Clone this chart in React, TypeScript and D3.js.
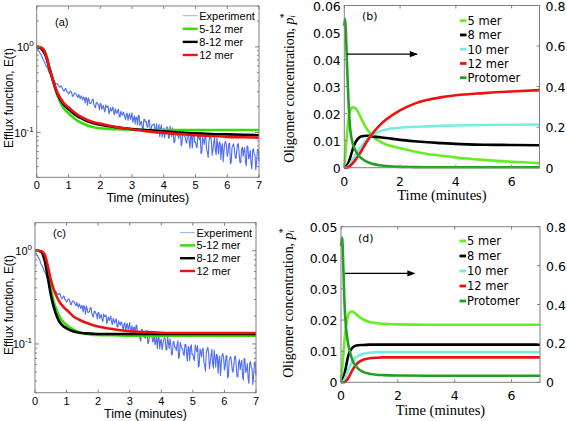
import React from "react";
import * as d3 from "d3";

// ---------------- DATA ----------------
// Experimental efflux (shared by panels a and c), sampled every EXP_DT minutes
const EXP_DT = 0.025;
const EXPERIMENT = [
  0.95, 0.94, 0.925, 0.89, 0.855, 0.825, 0.795, 0.75, 0.715, 0.69,
  0.665, 0.625, 0.595, 0.58, 0.555, 0.52, 0.495, 0.485, 0.465, 0.44,
  0.425, 0.418, 0.405, 0.385, 0.375, 0.368, 0.37, 0.356, 0.345, 0.338,
  0.345, 0.35, 0.336, 0.318, 0.306, 0.31, 0.327, 0.322, 0.3, 0.296,
  0.282, 0.288, 0.303, 0.304, 0.291, 0.267, 0.264, 0.284, 0.29, 0.284,
  0.28, 0.264, 0.257, 0.279, 0.26, 0.248, 0.269, 0.255, 0.24, 0.26,
  0.253, 0.221, 0.258, 0.248, 0.209, 0.255, 0.241, 0.2175, 0.219, 0.222,
  0.245, 0.245, 0.213, 0.2, 0.195, 0.224, 0.224, 0.213, 0.209, 0.184,
  0.219, 0.216, 0.187, 0.198, 0.207, 0.183, 0.174, 0.21, 0.197, 0.197,
  0.205, 0.165, 0.178, 0.195, 0.179, 0.186, 0.199, 0.1705, 0.162, 0.189,
  0.177, 0.167, 0.181, 0.186, 0.153, 0.152, 0.177, 0.166, 0.159, 0.173,
  0.167, 0.151, 0.142, 0.165, 0.168, 0.138, 0.158, 0.166, 0.1425, 0.1525,
  0.17, 0.1316, 0.144, 0.157, 0.126, 0.15, 0.151, 0.1222, 0.157, 0.159,
  0.121, 0.1308, 0.135, 0.1132, 0.107, 0.1428, 0.142, 0.1329, 0.134, 0.1169,
  0.1155, 0.1389, 0.14, 0.1011, 0.1026, 0.1218, 0.121, 0.1251, 0.126, 0.105,
  0.1085, 0.126, 0.098, 0.1056, 0.124, 0.0891, 0.112, 0.1226, 0.0887, 0.106,
  0.113, 0.0869, 0.099, 0.1094, 0.1167, 0.1136, 0.0865, 0.086, 0.119, 0.1033,
  0.0895, 0.1132, 0.0994, 0.076, 0.078, 0.105, 0.1062, 0.0925, 0.0919, 0.0846,
  0.0983, 0.1083, 0.0699, 0.0739, 0.1048, 0.0957, 0.09, 0.0893, 0.0779, 0.0753,
  0.0991, 0.0986, 0.0803, 0.0654, 0.0936, 0.0915, 0.0662, 0.0936, 0.0978, 0.0773,
  0.0777, 0.0693, 0.0663, 0.0978, 0.0891, 0.0825, 0.096, 0.0566, 0.0588, 0.0883,
  0.0819, 0.0725, 0.0886, 0.0899, 0.0638, 0.0587, 0.0511, 0.0804, 0.0873, 0.0924,
  0.0789, 0.0543, 0.0632, 0.0757, 0.0877, 0.0621, 0.0549, 0.0861, 0.0716, 0.0562,
  0.0776, 0.0755, 0.0486, 0.0678, 0.0741, 0.0456, 0.0623, 0.0761, 0.079, 0.0703,
  0.0525, 0.0585, 0.0739, 0.0752, 0.0433, 0.0451, 0.0662, 0.0705, 0.0733, 0.0637,
  0.0518, 0.0496, 0.0611, 0.073, 0.0741, 0.0563, 0.0446, 0.0443, 0.0637, 0.0679,
  0.0531, 0.0613, 0.0668, 0.0449, 0.0409, 0.0701, 0.0683, 0.0494, 0.0527, 0.0616,
  0.0432, 0.0377, 0.0621, 0.0645, 0.056, 0.0543, 0.0367, 0.0452, 0.0629, 0.064,
  0.0462,
];

const MODEL_T = [0, 0.1, 0.2, 0.3, 0.4, 0.5, 0.6, 0.7, 0.8, 0.9, 1.0, 1.2, 1.4, 1.6, 1.8, 2.0, 2.5, 3, 3.5, 4, 4.5, 5, 5.5, 6, 6.5, 7];
const A_5_12 = [1.0, 0.995, 0.96, 0.8, 0.57, 0.42, 0.31, 0.245, 0.205, 0.183, 0.168, 0.145, 0.13, 0.121, 0.115, 0.112, 0.109, 0.108, 0.107, 0.107, 0.107, 0.107, 0.107, 0.107, 0.107, 0.107];
const A_8_12 = [1.0, 0.98, 0.9, 0.76, 0.56, 0.42, 0.32, 0.26, 0.225, 0.203, 0.188, 0.163, 0.147, 0.135, 0.128, 0.123, 0.115, 0.11, 0.106, 0.103, 0.1, 0.098, 0.096, 0.095, 0.094, 0.093];
const A_12 = [1.0, 0.99, 0.94, 0.78, 0.57, 0.42, 0.325, 0.27, 0.235, 0.212, 0.197, 0.17, 0.152, 0.14, 0.132, 0.127, 0.116, 0.109, 0.103, 0.099, 0.096, 0.093, 0.091, 0.089, 0.088, 0.087];
const C_5_12 = [1.0, 1.0, 0.98, 0.86, 0.6, 0.39, 0.28, 0.225, 0.19, 0.172, 0.16, 0.143, 0.134, 0.129, 0.126, 0.125, 0.124, 0.123, 0.123, 0.123, 0.123, 0.123, 0.123, 0.123, 0.123, 0.123];
const C_8_12 = [1.0, 1.0, 0.97, 0.8, 0.53, 0.34, 0.245, 0.195, 0.168, 0.155, 0.147, 0.137, 0.132, 0.13, 0.129, 0.128, 0.128, 0.128, 0.128, 0.128, 0.128, 0.128, 0.128, 0.128, 0.128, 0.128];
const C_12 = [1.0, 1.0, 0.99, 0.92, 0.7, 0.49, 0.38, 0.315, 0.275, 0.25, 0.232, 0.2, 0.182, 0.17, 0.161, 0.154, 0.144, 0.137, 0.134, 0.132, 0.131, 0.131, 0.131, 0.131, 0.131, 0.131];

const B_T = [0, 0.05, 0.1, 0.15, 0.2, 0.3, 0.4, 0.5, 0.6, 0.8, 1.0, 1.25, 1.5, 2, 2.5, 3, 3.5, 4, 5, 6, 7];
const B_5 = [0, 0.006, 0.013, 0.018, 0.021, 0.0223, 0.022, 0.0205, 0.0183, 0.0145, 0.0118, 0.0098, 0.0086, 0.0072, 0.006, 0.0051, 0.0044, 0.0038, 0.0029, 0.0022, 0.0017];
const B_8 = [0, 0.0002, 0.0009, 0.0019, 0.0033, 0.0068, 0.0094, 0.0108, 0.0115, 0.0118, 0.0116, 0.0113, 0.011, 0.0103, 0.0098, 0.0094, 0.0091, 0.0088, 0.0085, 0.0084, 0.0083];
const B_10 = [0, 0, 0.0002, 0.0006, 0.0013, 0.003, 0.0047, 0.0063, 0.0078, 0.0104, 0.0121, 0.0134, 0.0141, 0.0148, 0.0151, 0.0153, 0.0155, 0.0156, 0.0158, 0.0159, 0.016];
const B_12 = [0, 0, 0, 0.0002, 0.0006, 0.0016, 0.0029, 0.0044, 0.006, 0.0095, 0.0125, 0.0155, 0.0178, 0.0212, 0.0236, 0.0251, 0.0261, 0.0268, 0.0276, 0.0282, 0.0287];
const B_PROT_T = [0, 0.03, 0.06, 0.1, 0.15, 0.2, 0.3, 0.4, 0.5, 0.6, 0.8, 1.0, 1.25, 1.5, 2, 2.5, 3, 4, 5, 6, 7];
const B_PROT = [0.7, 0.735, 0.66, 0.5, 0.33, 0.21, 0.12, 0.085, 0.062, 0.048, 0.03, 0.019, 0.012, 0.008, 0.004, 0.003, 0.0025, 0.002, 0.002, 0.002, 0.002];

const D_T = [0, 0.05, 0.1, 0.15, 0.2, 0.25, 0.3, 0.4, 0.5, 0.6, 0.8, 1.0, 1.25, 1.5, 2, 3, 4, 5, 6, 7];
const D_5 = [0, 0.005, 0.011, 0.016, 0.0195, 0.0215, 0.0224, 0.0227, 0.0222, 0.0213, 0.0201, 0.0194, 0.019, 0.0188, 0.0186, 0.0185, 0.0185, 0.0185, 0.0185, 0.0185];
const D_8 = [0, 0.0004, 0.0018, 0.0038, 0.0062, 0.0083, 0.0097, 0.0111, 0.0117, 0.0119, 0.012, 0.0121, 0.0121, 0.0121, 0.0121, 0.0121, 0.0121, 0.0121, 0.0121, 0.0121];
const D_10 = [0, 0.0001, 0.0006, 0.0015, 0.0027, 0.0039, 0.005, 0.0067, 0.0078, 0.0085, 0.0092, 0.0095, 0.0097, 0.0097, 0.0097, 0.0097, 0.0097, 0.0097, 0.0097, 0.0097];
const D_12 = [0, 0, 0, 0.0002, 0.0007, 0.0013, 0.0021, 0.0039, 0.0053, 0.0063, 0.0073, 0.0077, 0.0079, 0.008, 0.008, 0.008, 0.008, 0.008, 0.008, 0.008];
const D_PROT_T = [0, 0.04, 0.08, 0.12, 0.16, 0.2, 0.26, 0.3, 0.4, 0.5, 0.6, 0.8, 1.0, 1.25, 1.5, 2, 3, 4, 5, 6, 7];
const D_PROT = [0.7, 0.744, 0.6, 0.42, 0.31, 0.25, 0.19, 0.165, 0.115, 0.088, 0.07, 0.052, 0.044, 0.039, 0.037, 0.035, 0.034, 0.034, 0.034, 0.034, 0.034];

const X_TICKS_EFFLUX = [0, 1, 2, 3, 4, 5, 6, 7];
const X_TICKS_OLIGO = [0, 2, 4, 6];
const B_LEFT_TICKS = [0, 0.01, 0.02, 0.03, 0.04, 0.05, 0.06];
const D_LEFT_TICKS = [0, 0.01, 0.02, 0.03, 0.04, 0.05];
const RIGHT_TICKS = [0, 0.2, 0.4, 0.6, 0.8];

const EFFLUX_LEGEND = ["Experiment", "5-12 mer", "8-12 mer", "12 mer"];
const OLIGO_LEGEND = ["5 mer", "8 mer", "10 mer", "12 mer", "Protomer"];

// ---------------- STYLE ----------------
const SANS = "'Liberation Sans', Arial, Helvetica, sans-serif";
const DEJAVU = "'DejaVu Sans', sans-serif";
const SERIF = "'Liberation Serif', 'Times New Roman', serif";
const BOX = "#808080";
const EXP_COLOR = "#2f52f2";
const GREEN = "#33dd00";
const RED = "#ee1111";
const C5 = "#66ee22";
const C10 = "#77eedd";
const CPROT = "#22a022";

const zip = (t: number[], v: number[]) => t.map((tt, i) => [tt, v[i]] as [number, number]);

type Model = { name: string; color: string; t: number[]; v: number[] };

function EffluxPanel(p: {
  left: number; right: number; top: number; bottom: number;
  yDomain: [number, number]; tag: string; tagX: number; tagY: number;
  legX: number; legY: number; legDy: number; models: Model[]; labelY: number;
}) {
  const x = d3.scaleLinear().domain([0, 7]).range([p.left, p.right]);
  const y = d3.scaleLog().domain(p.yDomain).range([p.bottom, p.top]);
  const smooth = d3.line<[number, number]>().x(d => x(d[0])).y(d => y(d[1])).curve(d3.curveMonotoneX);
  const raw = d3.line<[number, number]>().x(d => x(d[0])).y(d => y(d[1]));
  const expPts = EXPERIMENT.map((v, i) => [i * EXP_DT, v] as [number, number]);
  const ticks: { v: number; major: boolean }[] = [];
  for (let e = -2; e <= 1; e++) {
    for (let m = 1; m <= 9; m++) {
      const v = m * Math.pow(10, e);
      if (v >= p.yDomain[0] - 1e-9 && v <= p.yDomain[1] + 1e-9) ticks.push({ v, major: m === 1 });
    }
  }
  const legendColors = [EXP_COLOR, ...p.models.map(m => m.color)];
  return (
    <g>
      <path d={raw(expPts) || ""} fill="none" stroke={EXP_COLOR} strokeWidth={1.1} strokeOpacity={0.85} strokeLinejoin="round" />
      {p.models.map(m => (
        <path key={m.name} d={smooth(zip(m.t, m.v)) || ""} fill="none" stroke={m.color} strokeWidth={2.6} />
      ))}
      <rect x={p.left} y={p.top} width={p.right - p.left} height={p.bottom - p.top} fill="none" stroke={BOX} strokeWidth={1} />
      {X_TICKS_EFFLUX.map(t => (
        <g key={t}>
          <line x1={x(t)} x2={x(t)} y1={p.bottom} y2={p.bottom - 3} stroke={BOX} />
          <line x1={x(t)} x2={x(t)} y1={p.top} y2={p.top + 3} stroke={BOX} />
          <text x={x(t)} y={p.bottom + 12} fontSize={11} fontFamily={SANS} textAnchor="middle" fill="#000">{t}</text>
        </g>
      ))}
      {ticks.map(tk => (
        <g key={tk.v}>
          <line x1={p.left} x2={p.left + (tk.major ? 4 : 2)} y1={y(tk.v)} y2={y(tk.v)} stroke={BOX} />
          <line x1={p.right} x2={p.right - (tk.major ? 4 : 2)} y1={y(tk.v)} y2={y(tk.v)} stroke={BOX} />
          {tk.major && (
            <text x={p.left - 3} y={y(tk.v) + 4} fontSize={11} fontFamily={SANS} textAnchor="end" fill="#000">
              10<tspan fontSize={8} dy={-5}>{Math.round(Math.log10(tk.v))}</tspan>
            </text>
          )}
        </g>
      ))}
      <text x={(p.left + p.right) / 2} y={p.bottom + 25} fontSize={12.5} fontFamily={SANS} textAnchor="middle">Time (minutes)</text>
      <text transform={`translate(9,${p.labelY}) rotate(-90)`} fontSize={12.5} fontFamily={SANS} textAnchor="middle" dominantBaseline="central" textLength={100} lengthAdjust="spacingAndGlyphs">Efflux function, E(t)</text>
      <text x={p.tagX} y={p.tagY} fontSize={11} fontFamily={SANS}>{p.tag}</text>
      {EFFLUX_LEGEND.map((name, i) => (
        <g key={name}>
          <line x1={p.legX} x2={p.legX + 15} y1={p.legY + i * p.legDy} y2={p.legY + i * p.legDy}
            stroke={i === 0 ? "#9aaaff" : legendColors[i]} strokeWidth={i === 0 ? 1 : 2.4} />
          <text x={p.legX + 16.5} y={p.legY + i * p.legDy + 4} fontSize={11} fontFamily={SANS}>{name}</text>
        </g>
      ))}
    </g>
  );
}

function OligoPanel(p: {
  left: number; right: number; top: number; bottom: number; yMax: number; leftTicks: number[];
  tag: string; tagX: number; tagY: number; legX: number; legY: number; legDy: number;
  series: Model[]; prot: Model; arrow: { t0: number; t1: number; v: number }; labelX: number; labelY: number;
}) {
  const x = d3.scaleLinear().domain([0, 7]).range([p.left, p.right]);
  const yL = d3.scaleLinear().domain([0, p.yMax]).range([p.bottom, p.top]);
  const yR = d3.scaleLinear().domain([0, 0.8]).range([p.bottom, p.top]);
  const lineL = d3.line<[number, number]>().x(d => x(d[0])).y(d => yL(d[1])).curve(d3.curveMonotoneX);
  const lineR = d3.line<[number, number]>().x(d => x(d[0])).y(d => yR(d[1])).curve(d3.curveMonotoneX);
  const all = [...p.series, p.prot];
  const ay = yR(p.arrow.v);
  const fmtL = (v: number) => (v === 0 ? "0" : d3.format(".2f")(v));
  const fmtR = (v: number) => (v === 0 ? "0" : d3.format(".1f")(v));
  return (
    <g>
      {p.series.map(s => (
        <path key={s.name} d={lineL(zip(s.t, s.v)) || ""} fill="none" stroke={s.color} strokeWidth={2.6} />
      ))}
      <path d={lineR(zip(p.prot.t, p.prot.v)) || ""} fill="none" stroke={p.prot.color} strokeWidth={2.6} />
      <rect x={p.left} y={p.top} width={p.right - p.left} height={p.bottom - p.top} fill="none" stroke={BOX} strokeWidth={1} />
      {X_TICKS_OLIGO.map(t => (
        <g key={t}>
          <line x1={x(t)} x2={x(t)} y1={p.bottom} y2={p.bottom - 3} stroke={BOX} />
          <line x1={x(t)} x2={x(t)} y1={p.top} y2={p.top + 3} stroke={BOX} />
          <text x={x(t)} y={p.bottom + 18} fontSize={12.5} fontFamily={DEJAVU} textAnchor="middle">{t}</text>
        </g>
      ))}
      {p.leftTicks.map(v => (
        <g key={v}>
          <line x1={p.left} x2={p.left + 3} y1={yL(v)} y2={yL(v)} stroke={BOX} />
          <text x={p.left - 3.5} y={yL(v) + 5} fontSize={12.5} fontFamily={DEJAVU} textAnchor="end">{fmtL(v)}</text>
        </g>
      ))}
      {RIGHT_TICKS.map(v => (
        <g key={v}>
          <line x1={p.right} x2={p.right - 3} y1={yR(v)} y2={yR(v)} stroke={BOX} />
          <text x={p.right + 6} y={yR(v) + 5} fontSize={12.5} fontFamily={DEJAVU} textAnchor="start">{fmtR(v)}</text>
        </g>
      ))}
      <text x={(p.left + p.right) / 2} y={p.bottom + 32.5} fontSize={14.5} fontFamily={SERIF} textAnchor="middle">Time (minutes)</text>
      <text transform={`translate(${p.labelX},${p.labelY}) rotate(-90)`} fontSize={13.8} fontFamily={SERIF} textAnchor="middle" dominantBaseline="central">
        Oligomer concentration, <tspan fontStyle="italic">p</tspan>
        <tspan fontStyle="italic" fontSize={9} dy={3}>i</tspan>
        <tspan fontSize={10} dx={-3} dy={-9}>*</tspan>
      </text>
      <text x={p.tagX} y={p.tagY} fontSize={11} fontFamily={DEJAVU}>{p.tag}</text>
      <line x1={x(p.arrow.t0)} x2={x(p.arrow.t1)} y1={ay} y2={ay} stroke="#000" strokeWidth={1.2} />
      <path d={`M${x(p.arrow.t1) + 1},${ay} l-8,-3.2 l0,6.4 z`} fill="#000" />
      {OLIGO_LEGEND.map((name, i) => (
        <g key={name}>
          <line x1={p.legX} x2={p.legX + 6.5} y1={p.legY + i * p.legDy} y2={p.legY + i * p.legDy} stroke={all[i].color} strokeWidth={2.8} />
          <text x={p.legX + 7.5} y={p.legY + i * p.legDy + 4.3} fontSize={11.5} fontFamily={DEJAVU}>{name}</text>
        </g>
      ))}
    </g>
  );
}

export default function App() {
  return (
    <svg width={567} height={421} style={{ position: "absolute", left: 0, top: 0, background: "#fff" }}>
      <EffluxPanel left={36.7} right={259} top={6} bottom={177.3} yDomain={[0.03, 3]} tag="(a)" tagX={55} tagY={25.5}
        legX={182.7} legY={15.7} legDy={13.1} labelY={98}
        models={[
          { name: "5-12", color: GREEN, t: MODEL_T, v: A_5_12 },
          { name: "8-12", color: "#000", t: MODEL_T, v: A_8_12 },
          { name: "12", color: RED, t: MODEL_T, v: A_12 },
        ]} />
      <EffluxPanel left={35} right={256} top={222.7} bottom={392.7} yDomain={[0.03, 2]} tag="(c)" tagX={53} tagY={237}
        legX={180} legY={232.6} legDy={12.8} labelY={305}
        models={[
          { name: "5-12", color: GREEN, t: MODEL_T, v: C_5_12 },
          { name: "8-12", color: "#000", t: MODEL_T, v: C_8_12 },
          { name: "12", color: RED, t: MODEL_T, v: C_12 },
        ]} />
      <OligoPanel left={344.3} right={539.5} top={5.5} bottom={167.7} yMax={0.06} leftTicks={B_LEFT_TICKS}
        tag="(b)" tagX={362} tagY={19.5} legX={460} legY={20.7} legDy={14.25} labelX={289} labelY={88}
        arrow={{ t0: 0.09, t1: 2.6, v: 0.56 }}
        series={[
          { name: "5", color: C5, t: B_T, v: B_5 },
          { name: "8", color: "#000", t: B_T, v: B_8 },
          { name: "10", color: C10, t: B_T, v: B_10 },
          { name: "12", color: RED, t: B_T, v: B_12 },
        ]}
        prot={{ name: "p", color: CPROT, t: B_PROT_T, v: B_PROT }} />
      <OligoPanel left={341} right={540} top={226.7} bottom={382.3} yMax={0.05} leftTicks={D_LEFT_TICKS}
        tag="(d)" tagX={358} tagY={242} legX={459.5} legY={241} legDy={15} labelX={288} labelY={303}
        arrow={{ t0: 0.14, t1: 2.58, v: 0.56 }}
        series={[
          { name: "5", color: C5, t: D_T, v: D_5 },
          { name: "8", color: "#000", t: D_T, v: D_8 },
          { name: "10", color: C10, t: D_T, v: D_10 },
          { name: "12", color: RED, t: D_T, v: D_12 },
        ]}
        prot={{ name: "p", color: CPROT, t: D_PROT_T, v: D_PROT }} />
    </svg>
  );
}
